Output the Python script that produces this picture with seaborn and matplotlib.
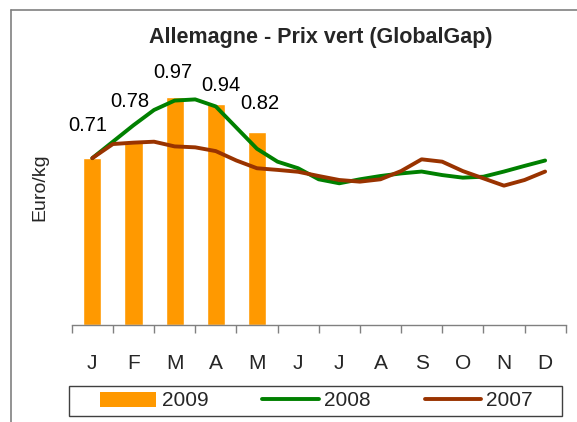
import numpy as np
import pandas as pd
import matplotlib
matplotlib.use("Agg")
import matplotlib.pyplot as plt
from matplotlib.lines import Line2D
from matplotlib.patches import Patch, Rectangle
import seaborn as sns

# ---- data ----
months = ["Jan", "Feb", "Mar", "Apr", "May", "Jun", "Jul", "Aug", "Sep", "Oct", "Nov", "Dec"]
month_labels = ["J", "F", "M", "A", "M", "J", "J", "A", "S", "O", "N", "D"]
months_2009 = ["Jan", "Feb", "Mar", "Apr", "May"]
values_2009 = [0.71, 0.78, 0.97, 0.94, 0.82]
# half-month readings (Jan 1st half ... Dec)
halfmonth_pos = [i / 2 for i in range(23)]
values_2008 = [0.71, 0.78, 0.85, 0.915, 0.955, 0.96, 0.93, 0.84, 0.75, 0.695, 0.667, 0.62,
               0.603, 0.62, 0.634, 0.645, 0.653, 0.638, 0.627, 0.631, 0.653, 0.677, 0.70]
values_2007 = [0.71, 0.77, 0.776, 0.78, 0.76, 0.756, 0.74, 0.70, 0.667, 0.66, 0.652, 0.634,
               0.617, 0.61, 0.62, 0.655, 0.705, 0.695, 0.655, 0.624, 0.593, 0.617, 0.653]
title = "Allemagne - Prix vert (GlobalGap)"
ylabel = "Euro/kg"
series_names = ["2009", "2008", "2007"]

# ---- style ----
sns.set_theme(style="white")
plt.rcParams["font.family"] = ["Liberation Sans", "DejaVu Sans"]

C_BAR = "#FF9900"
C_08 = "#008000"
C_07 = "#993300"
GRAY = "#808080"
LW = 2.8

W, H = 577, 422
fig = plt.figure(figsize=(W / 100, H / 100), dpi=100)
ax = fig.add_axes([71.7 / W, (H - 325) / H, 494 / W, 282 / H])

df_bar = pd.DataFrame({"month": months_2009, "value": values_2009})
sns.barplot(data=df_bar, x="month", y="value", order=months, color=C_BAR,
            width=0.44, saturation=1, ax=ax, errorbar=None)

sns.lineplot(x=halfmonth_pos, y=values_2008, color=C_08, linewidth=LW, ax=ax,
             solid_capstyle="round", solid_joinstyle="round")
sns.lineplot(x=halfmonth_pos, y=values_2007, color=C_07, linewidth=LW, ax=ax,
             solid_capstyle="round", solid_joinstyle="round")

# data labels on bars
label_dx = [-5, -3.5, -2, 5, 3]
label_dy = [33, 40, 25, 19, 29]
for i, v in enumerate(values_2009):
    ax.annotate(f"{v:.2f}", xy=(i, v), xytext=(label_dx[i] * 0.72, label_dy[i] * 0.72),
                textcoords="offset points", ha="center", va="center", fontsize=14.5,
                color="black")

ax.set_xlim(-0.5, 11.5)
ax.set_ylim(0, 1.2)
ax.set_xlabel("")
ax.set_ylabel("")
ax.set_yticks([])
ax.set_xticks(range(12))
ax.set_xticklabels(month_labels, fontsize=15)
ax.set_xticks(np.arange(-0.5, 12, 1), minor=True)
ax.tick_params(axis="x", which="major", length=0, pad=21, bottom=True)
ax.tick_params(axis="x", which="minor", length=6, color=GRAY, width=1,
               direction="out", bottom=True)
for s in ["top", "right", "left"]:
    ax.spines[s].set_visible(False)
ax.spines["bottom"].set_color(GRAY)
ax.spines["bottom"].set_linewidth(1)

fig.text(320.5 / W, 1 - 38 / H, title, ha="center", va="center", fontsize=15.5,
         fontweight="bold")
fig.text(40 / W, 1 - 187 / H, ylabel, ha="center", va="center", fontsize=14,
         rotation=90)

# outer frame (top and left visible)
fig.add_artist(Line2D([11 / W, 11 / W], [0, 1 - 10 / H], color=GRAY, lw=1.2,
                      transform=fig.transFigure))
fig.add_artist(Line2D([11 / W, 1], [1 - 10 / H, 1 - 10 / H], color=GRAY, lw=1.2,
                      transform=fig.transFigure))

# legend frame
fig.add_artist(Rectangle((69.3 / W, 1 - 415.7 / H), 492.4 / W, 30 / H,
                         transform=fig.transFigure, facecolor="white",
                         edgecolor="#404040", lw=1))
handles = [Patch(facecolor=C_BAR, edgecolor="none"),
           Line2D([], [], color=C_08, lw=LW),
           Line2D([], [], color=C_07, lw=LW)]
leg = fig.legend(handles, series_names, loc="center",
                 bbox_to_anchor=(316.5 / W, 1 - 401 / H),
                 ncol=3, fontsize=15, frameon=False,
                 handlelength=2.7, handleheight=0.72, handletextpad=0.25,
                 borderpad=0, borderaxespad=0, columnspacing=2.6)

fig.savefig("out.png", dpi=100)
